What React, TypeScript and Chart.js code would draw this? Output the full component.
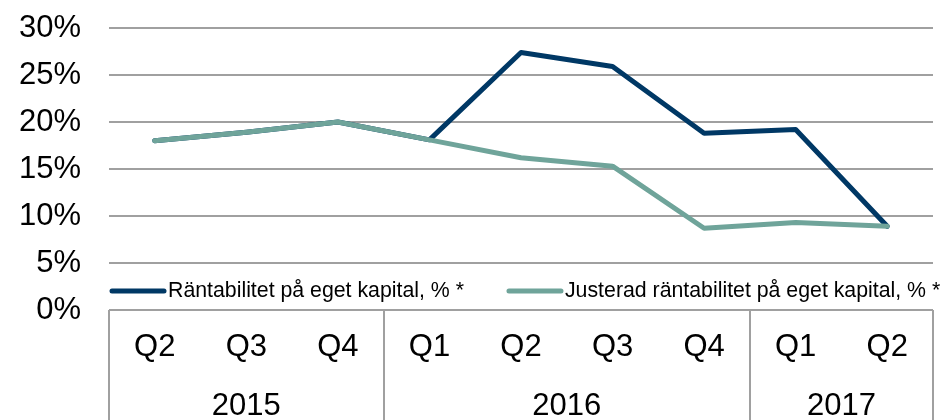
import { useEffect, useRef } from "react";
import { Chart, registerables } from "chart.js";

Chart.register(...registerables);

const quarters = ["Q2", "Q3", "Q4", "Q1", "Q2", "Q3", "Q4", "Q1", "Q2"];
const years = ["2015", "2016", "2017"];
const yearSpans = [3, 4, 2];
const roeValues = [18.0, 18.9, 20.0, 18.1, 27.4, 25.9, 18.8, 19.2, 8.9];
const adjRoeValues = [18.0, 18.9, 20.0, 18.1, 16.2, 15.3, 8.7, 9.3, 8.9];
const seriesLabels = [
  "Räntabilitet på eget kapital, % *",
  "Justerad räntabilitet på eget kapital, % *",
];
const seriesColors = ["#003865", "#6fa49a"];

const FONT = "'Liberation Sans', Arial, sans-serif";
const GRID = "#a0a0a0";

const boxPlugin = {
  id: "catBox",
  afterDraw(chart: any) {
    const { ctx, chartArea, scales } = chart;
    const x = scales.x;
    const top = chartArea.bottom;
    const bottom = chart.height;
    ctx.save();
    ctx.strokeStyle = GRID;
    ctx.lineWidth = 2;
    const edges: number[] = [chartArea.left];
    let idx = 0;
    yearSpans.forEach((span) => {
      idx += span;
      if (idx >= quarters.length) edges.push(chartArea.right);
      else edges.push((x.getPixelForValue(idx - 1) + x.getPixelForValue(idx)) / 2);
    });
    edges.forEach((e) => {
      const px = Math.round(e);
      ctx.beginPath();
      ctx.moveTo(px, top);
      ctx.lineTo(px, bottom);
      ctx.stroke();
    });
    ctx.fillStyle = "#000";
    ctx.font = `31px ${FONT}`;
    ctx.textAlign = "center";
    ctx.textBaseline = "middle";
    years.forEach((y, i) => {
      ctx.fillText(y, (edges[i] + edges[i + 1]) / 2, top + 96);
    });
    ctx.restore();
  },
  afterDatasetsDraw(chart: any) {
    const { ctx, chartArea } = chart;
    const ly = chartArea.bottom - 19;
    let lx = chartArea.left + 1;
    ctx.save();
    ctx.font = `21.3px ${FONT}`;
    ctx.textBaseline = "middle";
    ctx.textAlign = "left";
    seriesLabels.forEach((label, i) => {
      ctx.strokeStyle = seriesColors[i];
      ctx.lineWidth = 5;
      ctx.lineCap = "round";
      ctx.beginPath();
      ctx.moveTo(lx + 2, ly);
      ctx.lineTo(lx + 54, ly);
      ctx.stroke();
      ctx.fillStyle = "#000";
      ctx.fillText(label, lx + 58, ly);
      lx += 58 + ctx.measureText(label).width + 43;
    });
    ctx.restore();
  },
};

export default function App() {
  const ref = useRef<HTMLCanvasElement>(null);
  useEffect(() => {
    const chart = new Chart(ref.current as HTMLCanvasElement, {
      type: "line",
      data: {
        labels: quarters,
        datasets: [
          {
            label: seriesLabels[0],
            data: roeValues,
            borderColor: seriesColors[0],
            backgroundColor: seriesColors[0],
            borderWidth: 5,
            pointRadius: 0,
            borderCapStyle: "round",
            borderJoinStyle: "round",
            tension: 0,
            order: 1,
          },
          {
            label: seriesLabels[1],
            data: adjRoeValues,
            borderColor: seriesColors[1],
            backgroundColor: seriesColors[1],
            borderWidth: 5,
            pointRadius: 0,
            borderCapStyle: "round",
            borderJoinStyle: "round",
            tension: 0,
            order: 0,
          },
        ],
      },
      options: {
        responsive: false,
        animation: false,
        devicePixelRatio: 1,
        layout: { padding: { top: 28, right: 9, left: 0, bottom: 0 } },
        plugins: { legend: { display: false }, tooltip: { enabled: false } },
        scales: {
          x: {
            offset: true,
            grid: { display: false, drawTicks: false },
            border: { display: false },
            ticks: {
              font: { family: FONT, size: 31 },
              color: "#000",
              padding: 19,
              maxRotation: 0,
              autoSkip: false,
            },
            afterFit: (s: any) => {
              s.height = 110;
              s.paddingLeft = 0;
              s.paddingRight = 0;
            },
          },
          y: {
            min: 0,
            max: 30,
            grid: { color: GRID, lineWidth: 2, drawTicks: false },
            border: { display: false },
            ticks: {
              stepSize: 5,
              padding: 28,
              font: { family: FONT, size: 31 },
              color: "#000",
              callback: (v: any) => v + "%",
            },
            afterFit: (s: any) => {
              s.width = 109;
              s.paddingTop = 0;
              s.paddingBottom = 0;
            },
          },
        },
      },
      plugins: [boxPlugin],
    });
    return () => chart.destroy();
  }, []);
  return (
    <div style={{ position: "absolute", left: 0, top: 0, width: 942, height: 420 }}>
      <canvas ref={ref} width={942} height={420} style={{ display: "block" }} />
    </div>
  );
}
